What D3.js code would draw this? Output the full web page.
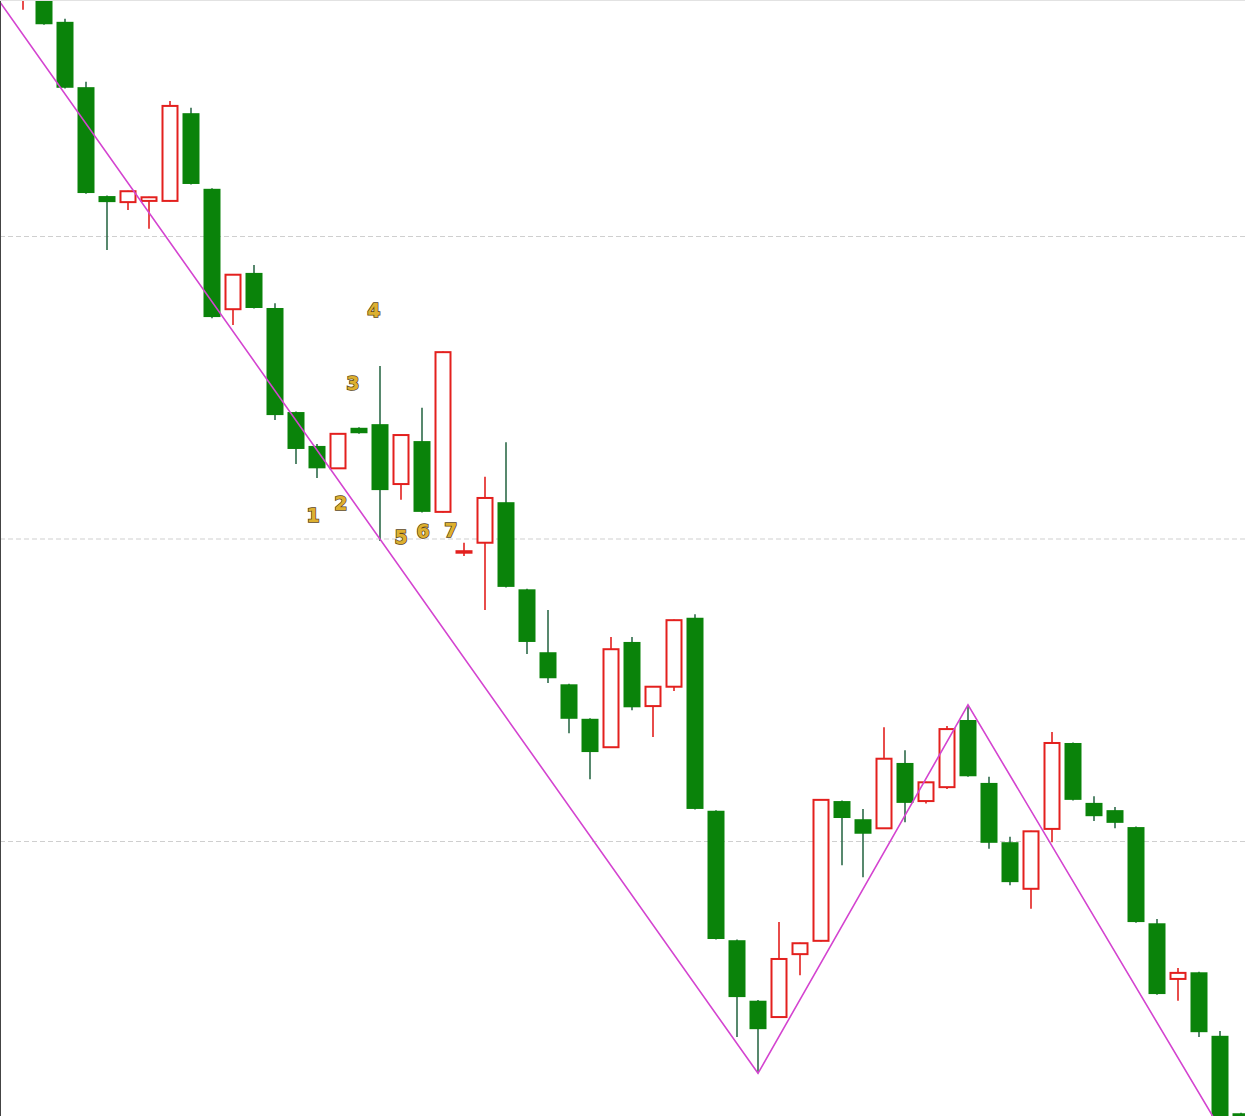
<!DOCTYPE html>
<html>
<head>
<meta charset="utf-8">
<script src="https://cdn.jsdelivr.net/npm/d3@7"></script>
<style>
  html, body { margin: 0; padding: 0; background: #fff; }
  svg { display: block; }
</style>
</head>
<body>
<svg id="chart"></svg>
<script>
// candle data, one entry per bar (index = position)
const opens = [33.95, 34.03, 33.54, 32.46, 30.66, 30.56, 30.58, 30.58, 32.03, 30.78,
  28.79, 29.39, 28.81, 27.09, 26.53, 26.16, 26.83, 26.89, 25.90, 26.61,
  25.44, 24.78, 24.93, 25.60, 24.16, 23.12, 22.59, 22.02, 21.55, 23.29,
  22.23, 22.55, 23.69, 20.50, 18.36, 17.36, 17.09, 18.13, 18.35, 20.66,
  20.36, 20.21, 21.29, 20.66, 20.89, 22.00, 20.96, 19.98, 19.21, 20.20,
  21.62, 20.63, 20.51, 20.23, 18.64, 17.72, 17.83, 16.78, 15.50];
const closes = [34.40, 33.50, 32.45, 30.71, 30.56, 30.74, 30.64, 32.15, 30.86, 28.66,
  29.36, 28.81, 27.04, 26.48, 26.16, 26.73, 26.74, 25.80, 26.71, 25.44,
  28.08, 24.79, 25.67, 24.20, 23.29, 22.69, 22.02, 21.47, 23.17, 22.21,
  22.55, 23.65, 20.53, 18.38, 17.42, 16.89, 18.05, 18.31, 20.68, 20.38,
  20.12, 21.36, 20.63, 20.97, 21.85, 21.07, 19.97, 19.32, 20.16, 21.62,
  20.68, 20.41, 20.30, 18.66, 17.47, 17.82, 16.84, 15.06, 14.80];
const highs = [34.56, 34.10, 33.59, 32.55, 30.67, 30.75, 30.65, 32.23, 32.12, 30.79,
  29.37, 29.52, 28.89, 27.10, 26.56, 26.74, 26.84, 27.85, 26.72, 27.16,
  28.09, 24.93, 26.02, 26.59, 24.17, 23.82, 22.60, 22.03, 23.37, 23.37,
  22.56, 23.66, 23.75, 20.51, 18.37, 17.37, 18.66, 18.32, 20.69, 20.67,
  20.53, 21.88, 21.50, 20.98, 21.90, 22.25, 21.06, 20.07, 20.17, 21.80,
  21.63, 20.74, 20.56, 20.24, 18.71, 17.90, 17.84, 16.86, 15.51];
const lows = [33.74, 33.49, 32.44, 30.70, 29.77, 30.43, 30.12, 30.57, 30.85, 28.64,
  28.53, 28.80, 26.96, 26.23, 26.00, 26.15, 26.73, 24.96, 25.64, 25.43,
  25.43, 24.71, 23.82, 24.19, 23.09, 22.61, 21.78, 21.02, 21.54, 22.16,
  21.72, 22.48, 20.52, 18.37, 16.76, 16.16, 17.08, 17.78, 18.34, 19.60,
  19.40, 20.20, 20.31, 20.62, 20.86, 21.06, 19.87, 19.27, 18.88, 19.98,
  20.67, 20.33, 20.21, 18.65, 17.46, 17.36, 16.76, 15.00, 14.70];

// zigzag swing points: [bar index, price]
const zigzag = [[-3, 34.80], [35, 16.16], [45, 22.25], [60, 13.50]];

// horizontal grid prices
const gridValues = [20, 25, 30];

// count marks: text, bar index, price
const markTexts = ['1', '2', '3', '4', '5', '6', '7'];
const markIdx = [13.81, 15.14, 15.71, 16.71, 18.0, 19.05, 20.38];
const markPrice = [25.39, 25.59, 27.57, 28.78, 25.02, 25.12, 25.14];

const width = 1245;
const height = 1116;
const bodyW = 17;
const upColor = '#e3201e';
const downColor = '#0a830a';
const downWick = '#2e6b4a';

const data = opens.map((o, i) => ({
  i, open: o, close: closes[i], high: highs[i], low: lows[i],
}));

const x = d3.scaleLinear().domain([0, 57]).range([23, 1220]);
const y = d3.scaleLinear().domain([20, 30]).range([841, 236]);

const svg = d3.select('#chart').attr('width', width).attr('height', height);

svg.append('rect').attr('width', width).attr('height', height).attr('fill', '#fff');

// grid through a right axis with full-width ticks
const grid = svg.append('g')
  .call(d3.axisRight(y).tickValues(gridValues).tickSize(width).tickFormat(''));
grid.select('.domain').remove();
grid.selectAll('.tick line')
  .attr('stroke', '#cfcfcf')
  .attr('stroke-dasharray', '5,3');

const candles = svg.append('g')
  .selectAll('g')
  .data(data)
  .join('g');

candles.append('line')
  .attr('x1', (d) => x(d.i))
  .attr('x2', (d) => x(d.i))
  .attr('y1', (d) => y(d.high))
  .attr('y2', (d) => y(d.low))
  .attr('stroke', (d) => (d.close >= d.open ? upColor : downWick))
  .attr('stroke-width', 1.6);

candles.append('rect')
  .attr('x', (d) => x(d.i) - (bodyW / 2) + (d.close >= d.open ? 1 : 0))
  .attr('width', (d) => (d.close >= d.open ? bodyW - 2 : bodyW))
  .attr('y', (d) => y(Math.max(d.open, d.close)))
  .attr('height', (d) => Math.max(1.5, Math.abs(y(d.open) - y(d.close))))
  .attr('fill', (d) => (d.close >= d.open ? '#fff' : downColor))
  .attr('stroke', (d) => (d.close >= d.open ? upColor : 'none'))
  .attr('stroke-width', 2);

svg.append('path')
  .datum(zigzag)
  .attr('fill', 'none')
  .attr('stroke', '#d444d0')
  .attr('stroke-width', 1.6)
  .attr('d', d3.line().x((d) => x(d[0])).y((d) => y(d[1])));

svg.append('g')
  .selectAll('text')
  .data(markTexts)
  .join('text')
  .attr('x', (d, i) => x(markIdx[i]))
  .attr('y', (d, i) => y(markPrice[i]))
  .attr('text-anchor', 'middle')
  .attr('dominant-baseline', 'central')
  .attr('font-family', 'DejaVu Sans, sans-serif')
  .attr('font-weight', 'bold')
  .attr('font-size', 19)
  .attr('fill', '#ddb030')
  .attr('stroke', '#5c4414')
  .attr('stroke-width', 1.5)
  .attr('paint-order', 'stroke')
  .text((d) => d);

// frame edges
svg.append('line').attr('x1', 0.5).attr('x2', 0.5).attr('y1', 0).attr('y2', height)
  .attr('stroke', '#444').attr('stroke-width', 1);
svg.append('line').attr('x1', 0).attr('x2', width).attr('y1', 0.5).attr('y2', 0.5)
  .attr('stroke', '#e2e2e2').attr('stroke-width', 1);
</script>
</body>
</html>
